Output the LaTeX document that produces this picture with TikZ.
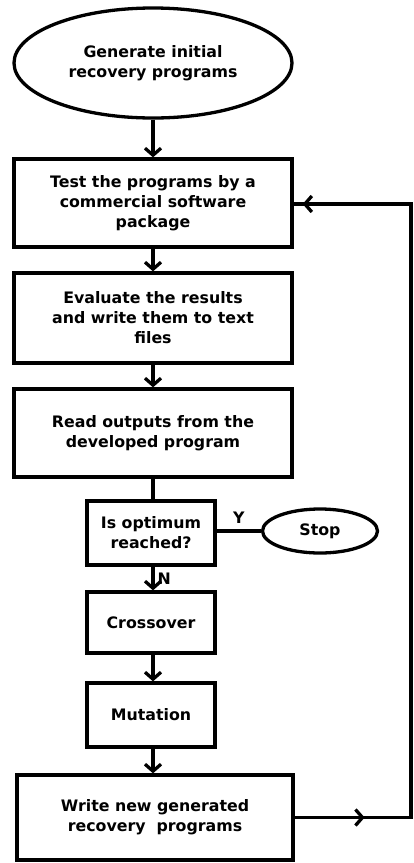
\documentclass[tikz,border=0pt]{standalone}
\usepackage{fontspec}
\setmainfont{DejaVu Sans}
\usetikzlibrary{arrows.meta,shapes.geometric,decorations.markings}
\begin{document}
\begin{tikzpicture}[x=1pt,y=-1pt,
  txt/.style={font=\bfseries\fontsize{15.8}{20}\selectfont},
  box/.style={draw,line width=3.3pt,rectangle,align=center,inner sep=0pt,txt},
  oval/.style={draw,line width=3.3pt,ellipse,align=center,inner sep=0pt,txt},
  conn/.style={line width=3.3pt,-{Straight Barb[length=7pt,width=16pt]}},
  plain/.style={line width=3.3pt},
  lbl/.style={txt,inner sep=2pt}
]
\fill[white] (0,0) rectangle (413,863);
\useasboundingbox (0,0) rectangle (413,863);

\node[oval,minimum width=278pt,minimum height=110pt] (gen) at (153,63) {Generate initial\\recovery programs};
\node[box,minimum width=278pt,minimum height=88pt] (t1) at (153,203) {Test the programs by a\\commercial software\\package};
\node[box,minimum width=278pt,minimum height=90pt] (t2) at (153,318) {Evaluate the results\\and write them to text\\files};
\node[box,minimum width=278pt,minimum height=88pt] (t3) at (153,433) {Read outputs from the\\developed program};
\node[box,minimum width=128pt,minimum height=64pt] (dec) at (151,533) {Is optimum\\reached?};
\node[oval,minimum width=115pt,minimum height=44pt] (stop) at (320,531) {Stop};
\node[box,minimum width=128pt,minimum height=61pt] (cross) at (151,622.5) {Crossover};
\node[box,minimum width=128pt,minimum height=64pt] (mut) at (151,715) {Mutation};
\node[box,minimum width=276pt,minimum height=85pt] (w) at (155,817.5) {Write new generated\\recovery\ \ programs};
\coordinate (fb) at (411,204);

\draw[conn] (gen.south) -- (gen.south |- t1.north);
\draw[conn] (t1.south -| gen.south) -- (gen.south |- t2.north);
\draw[conn] (t2.south -| gen.south) -- (gen.south |- t3.north);
\draw[plain] (t3.south -| gen.south) -- (gen.south |- dec.north);
\draw[plain] (dec.east |- stop.west) -- node[lbl,above=4pt] (ylab) {Y} (stop.west);
\draw[conn] (dec.south -| gen.south) -- node[lbl,right=1pt] (nlab) {N} (gen.south |- cross.north);
\draw[conn] (cross.south -| gen.south) -- (gen.south |- mut.north);
\draw[conn] (mut.south -| gen.south) -- (gen.south |- w.north);
\draw[plain,postaction={decorate},
  decoration={markings,
    mark=at position 70pt with {\arrow{Straight Barb[length=7pt,width=16pt]}},
    mark=at position -9pt with {\arrow{Straight Barb[length=7pt,width=16pt]}}}]
  (w.east) -| (fb) -- (t1.east |- fb);
\end{tikzpicture}
\end{document}
